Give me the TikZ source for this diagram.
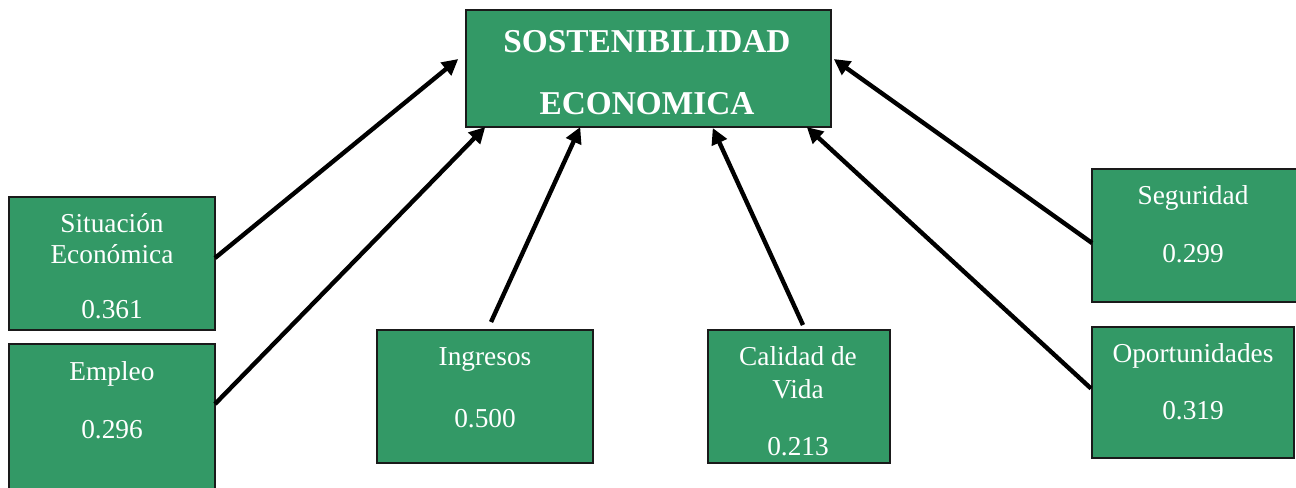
\documentclass[tikz,border=0pt]{standalone}
\usepackage{fontspec}
\setmainfont{Liberation Serif}
\usetikzlibrary{arrows.meta}
\definecolor{boxgreen}{HTML}{339966}
\definecolor{boxline}{HTML}{1A1A1A}
\begin{document}
\begin{tikzpicture}[x=0.75pt,y=-0.75pt,
  box/.style={draw=boxline,line width=1.3pt,fill=boxgreen,inner sep=0pt,outer sep=0pt},
  lbl/.style={text=white,font=\fontsize{20.5}{24}\selectfont,anchor=base,inner sep=0pt},
  ttl/.style={text=white,font=\fontsize{25}{30}\selectfont\bfseries,anchor=base,inner sep=0pt},
  arr/.style={line width=3.3pt,-{Triangle[length=12pt,width=12pt]}}]
\useasboundingbox (0,0) rectangle (1296,487);
% boxes
\node[box,minimum width=364.5*0.75pt,minimum height=117*0.75pt] (main) at (648.5,68.5) {};
\node[box,minimum width=206*0.75pt,minimum height=133*0.75pt] (sit) at (112,263.5) {};
\node[box,minimum width=206*0.75pt,minimum height=160*0.75pt] (emp) at (112,424) {};
\node[box,minimum width=216*0.75pt,minimum height=133*0.75pt] (ing) at (485,396.5) {};
\node[box,minimum width=182*0.75pt,minimum height=133*0.75pt] (cal) at (799,396.5) {};
\node[box,minimum width=206*0.75pt,minimum height=133*0.75pt] (seg) at (1195,235.5) {};
\node[box,minimum width=202*0.75pt,minimum height=131*0.75pt] (opo) at (1193,392.5) {};
% texts
\node[ttl] (t1) at (647,52) {SOSTENIBILIDAD};
\node[ttl] (t2) at (647,114) {ECONOMICA};
\node[lbl] (s1) at (112,232) {Situación};
\node[lbl] (s2) at (112,263) {Económica};
\node[lbl] (s3) at (112,318) {0.361};
\node[lbl] (e1) at (112,380) {Empleo};
\node[lbl] (e2) at (112,438) {0.296};
\node[lbl] (i1) at (485,365) {Ingresos};
\node[lbl] (i2) at (485,427) {0.500};
\node[lbl] (c1) at (798,365) {Calidad de};
\node[lbl] (c2) at (798,398) {Vida};
\node[lbl] (c3) at (798,455) {0.213};
\node[lbl] (g1) at (1193,204) {Seguridad};
\node[lbl] (g2) at (1193,262) {0.299};
\node[lbl] (o1) at (1193,362) {Oportunidades};
\node[lbl] (o2) at (1193,419) {0.319};
% arrows
\draw[arr] ([shift={(0,-5.5)}]sit.east) -- ([shift={(-8,-9.5)}]main.west);
\draw[arr] ([shift={(0,-20)}]emp.east) -- ([shift={(19,0)}]main.south west);
\draw[arr] ([shift={(6,-8)}]ing.north) -- ([shift={(114,0)}]main.south west);
\draw[arr] ([shift={(4,-5)}]cal.north) -- ([shift={(-118,1)}]main.south east);
\draw[arr] ([shift={(-1,-4)}]opo.west) -- ([shift={(-24,0)}]main.south east);
\draw[arr] ([shift={(0,7.5)}]seg.west) -- ([shift={(3,-9.5)}]main.east);
\end{tikzpicture}
\end{document}
